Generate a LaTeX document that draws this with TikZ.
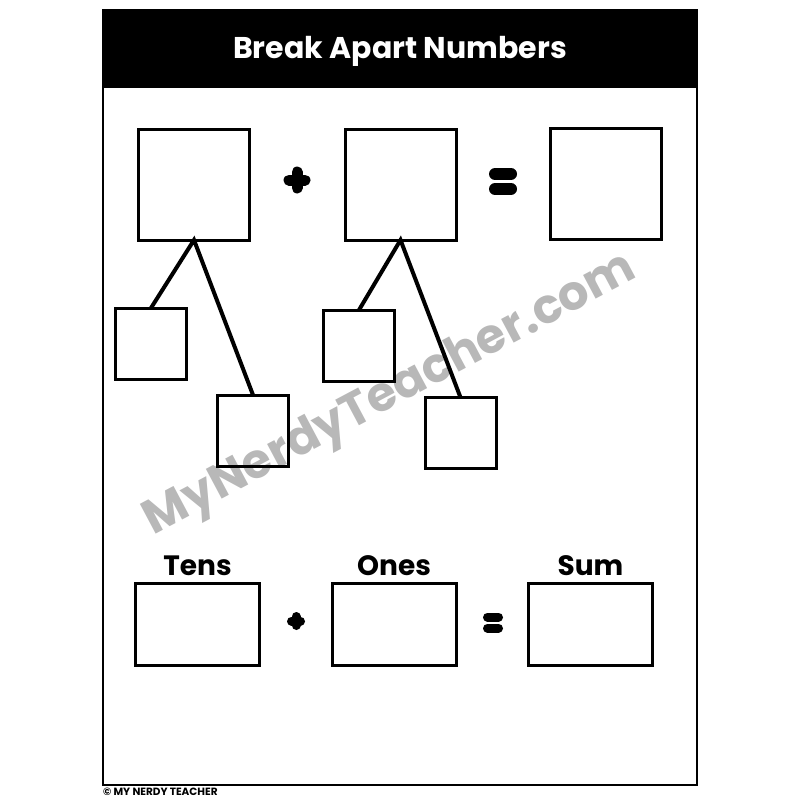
\documentclass[tikz,border=0pt]{standalone}
\usepackage{fontspec}
\setmainfont{Poppins}
\usetikzlibrary{positioning}

\begin{document}
\begin{tikzpicture}[x=1pt, y=-1pt, node distance=8pt,
  bigbox/.style={draw, line width=3pt, minimum size=111pt, inner sep=0pt, outer sep=0pt},
  smallbox/.style={draw, line width=3pt, minimum size=71pt, inner sep=0pt, outer sep=0pt},
  sumbox/.style={draw, line width=3pt, minimum width=124pt, minimum height=82pt, inner sep=0pt, outer sep=0pt},
  boxlabel/.style={font=\bfseries\fontsize{28}{28}\selectfont, inner sep=0pt, text depth=0pt},
  branch/.style={line width=4pt},
  sign/.style={line cap=round}]
\useasboundingbox (0,0) rectangle (800,800);

% watermark
\node[text=black!28, font=\bfseries\fontsize{48}{48}\selectfont, rotate=28, anchor=base, inner sep=0pt] (mark) at (396,406) {MyNerdyTeacher.com};

% frame and header
\draw[line width=2pt] (103,10) rectangle (697,785);
\fill (103,10) rectangle (697,88);
\node[text=white, font=\bfseries\fontsize{30}{30}\selectfont, anchor=base, inner sep=0pt] (title) at (400,59) {Break Apart Numbers};

% number bonds
\node[bigbox] (a) at (194,184.5) {};
\node[bigbox] (b) at (400.5,184.5) {};
\node[bigbox] (c) at (606,183.5) {};
\node[smallbox] (a1) at (151,343.5) {};
\node[smallbox] (a2) at (253,430.5) {};
\node[smallbox] (b1) at (359,345.5) {};
\node[smallbox] (b2) at (460.5,433) {};
\draw[branch] (a1.north) -- (a.south) -- (a2.north);
\draw[branch] (b1.north) -- (b.south) -- (b2.north);
\draw[sign, line width=11pt] (289,180) -- (305,180) (297,172) -- (297,188);
\draw[sign, line width=12pt] (495,174) -- (511,174) (495,189) -- (511,189);

% tens + ones = sum
\node[sumbox] (tens) at (197.5,624.5) {};
\node[sumbox] (ones) at (394,624.5) {};
\node[sumbox] (sum) at (590.5,624.5) {};
\node[boxlabel, above=of tens] (tenslabel) {Tens};
\node[boxlabel, above=of ones] (oneslabel) {Ones};
\node[boxlabel, above=of sum] (sumlabel) {Sum};
\draw[sign, line width=9pt] (291.5,621) -- (300.5,621) (296,616.5) -- (296,625.5);
\draw[sign, line width=9pt] (487.5,617) -- (498.5,617) (487.5,628) -- (498.5,628);

\node[anchor=west, font=\bfseries\fontsize{10.5}{10.5}\selectfont, inner sep=0pt] (credit) at (103,792) {© MY NERDY TEACHER};
\end{tikzpicture}
\end{document}
